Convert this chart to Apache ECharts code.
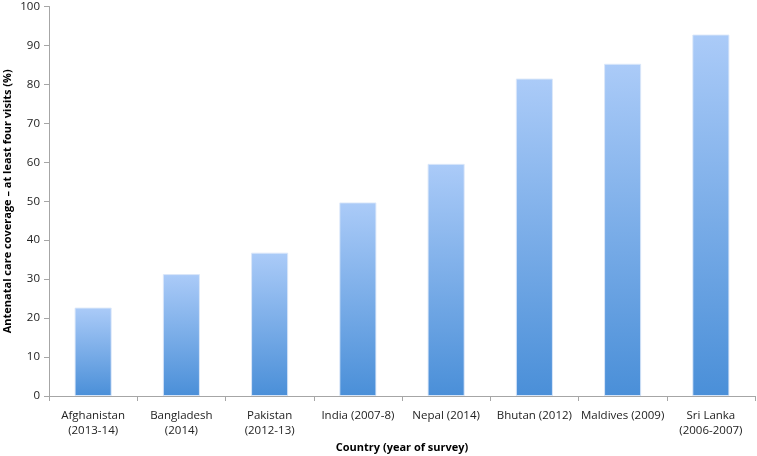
<!DOCTYPE html>
<html><head><meta charset="utf-8">
<script src="https://cdn.jsdelivr.net/npm/echarts@6/dist/echarts.min.js"></script>
<style>html,body{margin:0;padding:0;background:#fff}#c{width:757px;height:456px}</style>
</head><body><div id="c"></div>
<script>
const categories = ["Afghanistan\n(2013-14)", "Bangladesh\n(2014)", "Pakistan\n(2012-13)", "India (2007-8)", "Nepal (2014)", "Bhutan (2012)", "Maldives (2009)", "Sri Lanka\n(2006-2007)"];
const values = [22.7, 31.3, 36.8, 49.7, 59.6, 81.5, 85.3, 92.8];
const yTicks = [0, 100, 10];

const chart = echarts.init(document.getElementById('c'), null, {renderer: 'canvas'});
const font = '"Open Sans", "Liberation Sans", sans-serif';
chart.setOption({
  animation: false,
  grid: {left: 49, right: 2, top: 6.5, bottom: 60, containLabel: false, outerBoundsMode: 'none'},
  xAxis: {
    type: 'category', data: categories,
    name: 'Country (year of survey)', nameLocation: 'middle', nameGap: 46, nameMoveOverlap: false,
    nameTextStyle: {fontFamily: font, fontSize: 11, fontWeight: 'bold', color: '#000'},
    axisLine: {lineStyle: {color: '#a6a6a6'}},
    axisTick: {show: true, alignWithLabel: false, length: 5, lineStyle: {color: '#a6a6a6'}},
    axisLabel: {fontFamily: font, fontSize: 11.5, color: '#222', lineHeight: 15, margin: 12, interval: 0}
  },
  yAxis: {
    type: 'value', min: yTicks[0], max: yTicks[1], interval: yTicks[2],
    name: 'Antenatal care coverage – at least four visits (%)', nameLocation: 'middle', nameGap: 36, nameMoveOverlap: false,
    nameTextStyle: {fontFamily: font, fontSize: 11, fontWeight: 'bold', color: '#000'},
    axisLine: {show: true, lineStyle: {color: '#a6a6a6'}},
    axisTick: {show: true, length: 5, lineStyle: {color: '#a6a6a6'}},
    splitLine: {show: false},
    axisLabel: {fontFamily: font, fontSize: 11.5, color: '#222', margin: 9}
  },
  series: [{
    type: 'bar', data: values, barWidth: '42%',
    itemStyle: {
      color: new echarts.graphic.LinearGradient(0, 0, 0, 1, [
        {offset: 0, color: '#abcbf8'},
        {offset: 1, color: '#4a8fd8'}
      ]),
      borderColor: 'rgba(220,232,250,0.9)', borderWidth: 1
    }
  }]
});
</script></body></html>
